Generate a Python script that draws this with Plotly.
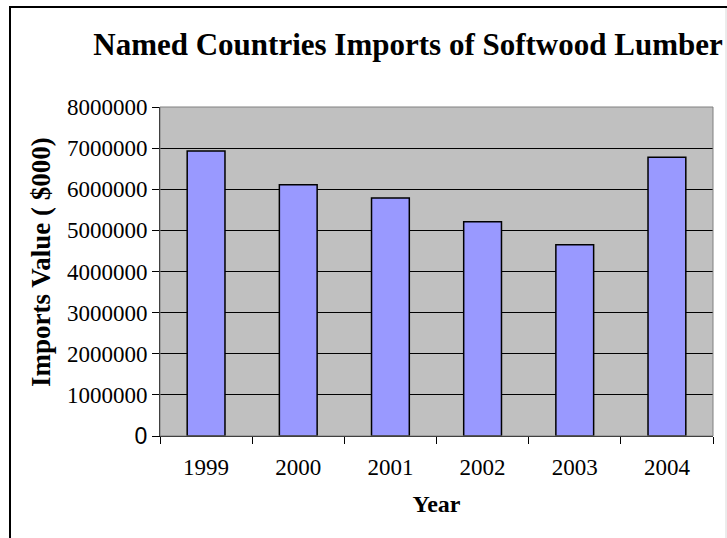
import plotly.graph_objects as go

# Softwood lumber imports by year, value in thousands of dollars
years = ["1999", "2000", "2001", "2002", "2003", "2004"]
imports_value = [6930000, 6110000, 5785000, 5210000, 4650000, 6780000]

y_ticks = [0, 1000000, 2000000, 3000000, 4000000, 5000000, 6000000, 7000000, 8000000]
y_tick_text = ["<span style='font-family:Arial'>0</span>"] + [str(v) for v in y_ticks[1:]]

W, H = 727, 538
L, R, T, B = 160, 14, 107, 102
PW, PH = W - L - R, H - T - B


def px_x(x):
    return (x - L) / PW


def px_y(y):
    return (H - B - y) / PH


serif = "Liberation Serif, Times New Roman, serif"

fig = go.Figure(
    go.Bar(
        x=years,
        y=imports_value,
        width=0.41,
        marker=dict(color="#9999FF", line=dict(color="black", width=1.5)),
    )
)

fig.update_layout(
    width=W,
    height=H,
    margin=dict(l=L, r=R, t=T, b=B),
    paper_bgcolor="white",
    plot_bgcolor="#C0C0C0",
    showlegend=False,
    font=dict(family=serif, color="black"),
    title=dict(
        text="<b>Named Countries Imports of Softwood Lumber</b>",
        font=dict(size=31, family=serif, color="black"),
        x=408 / W,
        xanchor="center",
        y=1 - 44 / H,
        yanchor="middle",
    ),
    xaxis=dict(
        type="category",
        tickson="boundaries",
        ticks="outside",
        ticklen=7,
        tickcolor="black",
        tickfont=dict(size=23, family=serif),
        ticklabelstandoff=10,
        showline=True,
        linecolor="black",
        linewidth=1,
        showgrid=False,
        title=dict(text="<b>Year</b>", font=dict(size=24, family=serif), standoff=16),
    ),
    yaxis=dict(
        range=[0, 8000000],
        tickvals=y_ticks,
        ticktext=y_tick_text,
        ticks="outside",
        ticklen=7,
        tickcolor="black",
        tickfont=dict(size=23, family=serif),
        showline=True,
        linecolor="black",
        linewidth=1,
        showgrid=True,
        gridcolor="black",
        gridwidth=1,
        zeroline=False,
    ),
    shapes=[
        # gray frame of the plot area
        dict(type="rect", xref="paper", yref="paper", x0=0, x1=1, y0=0, y1=1,
             line=dict(color="#808080", width=1), layer="above"),
        # chart area border
        dict(type="rect", xref="paper", yref="paper",
             x0=px_x(10), x1=px_x(760), y0=px_y(7), y1=px_y(580),
             line=dict(color="black", width=2)),
        dict(type="line", xref="paper", yref="paper",
             x0=px_x(726), x1=px_x(726), y0=px_y(8), y1=px_y(540),
             line=dict(color="#D8D8D8", width=1)),
    ],
    annotations=[
        dict(
            text="<b>Imports Value ( $000)</b>",
            xref="paper", yref="paper",
            x=px_x(41), y=px_y(262),
            xanchor="center", yanchor="middle",
            textangle=-90,
            showarrow=False,
            font=dict(size=27, family=serif, color="black"),
        )
    ],
)

fig.write_html("out.html")
